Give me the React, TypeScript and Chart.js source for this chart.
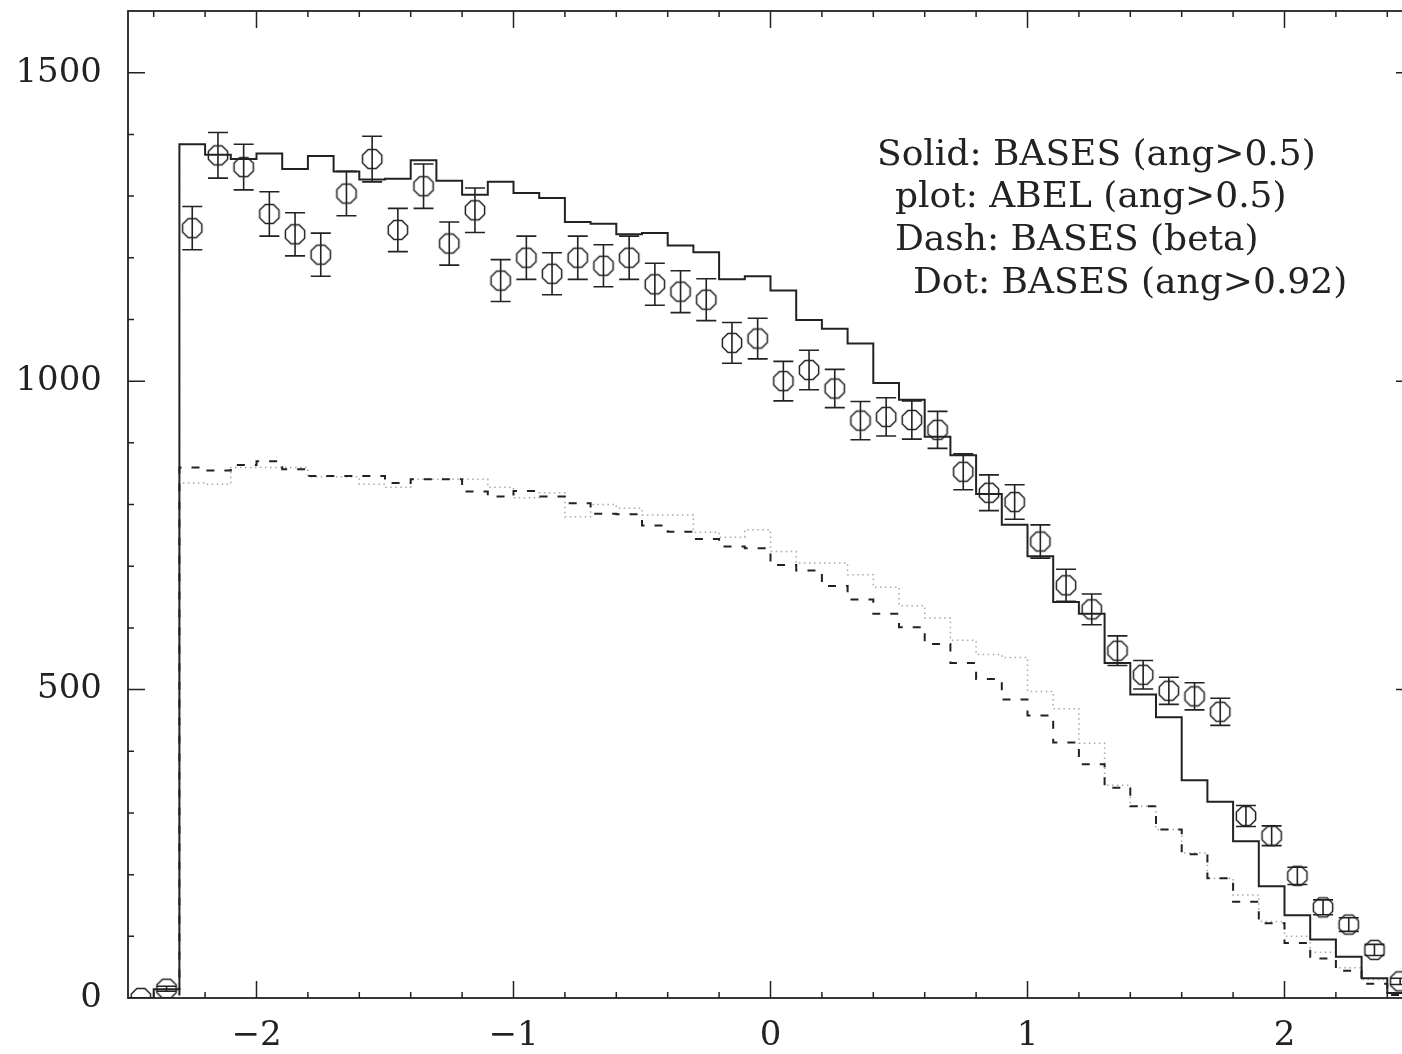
import React, { useEffect, useRef } from 'react';
import { Chart, registerables } from 'chart.js';

Chart.register(...registerables);

// ---- DATA ----
const binCenters = [
  -2.45, -2.35, -2.25, -2.15, -2.05, -1.95, -1.85, -1.75, -1.65, -1.55,
  -1.45, -1.35, -1.25, -1.15, -1.05, -0.95, -0.85, -0.75, -0.65, -0.55,
  -0.45, -0.35, -0.25, -0.15, -0.05, 0.05, 0.15, 0.25, 0.35, 0.45,
  0.55, 0.65, 0.75, 0.85, 0.95, 1.05, 1.15, 1.25, 1.35, 1.45,
  1.55, 1.65, 1.75, 1.85, 1.95, 2.05, 2.15, 2.25, 2.35, 2.45,
];
const binWidth = 0.1;

// Solid: BASES (ang>0.5)
const solidBases = [
  0, 14, 1384, 1367, 1360, 1369, 1344, 1365, 1340, 1327,
  1328, 1358, 1325, 1302, 1323, 1305, 1297, 1258, 1255, 1238,
  1240, 1220, 1209, 1165, 1170, 1147, 1099, 1085, 1061, 997,
  970, 910, 880, 817, 767, 716, 642, 623, 543, 492,
  455, 353, 318, 254, 181, 134, 95, 67, 32, 8,
];

// Dash: BASES (beta)
const dashBeta = [
  0, 0, 860, 855, 864, 870, 857, 846, 846, 846,
  835, 841, 841, 821, 813, 822, 813, 802, 785, 784,
  766, 756, 744, 732, 729, 702, 693, 668, 646, 623,
  601, 574, 543, 517, 484, 458, 414, 379, 341, 311,
  273, 233, 194, 156, 121, 89, 64, 44, 23, 5,
];

// Dot: BASES (ang>0.92)
const dotBases092 = [
  0, 0, 835, 833, 860, 860, 860, 845, 845, 833,
  828, 841, 841, 841, 828, 811, 819, 780, 800, 794,
  783, 783, 755, 747, 759, 724, 705, 705, 686, 666,
  636, 616, 580, 557, 552, 497, 469, 413, 345, 311,
  273, 235, 194, 167, 124, 100, 74, 49, 30, 8,
];

// plot: ABEL (ang>0.5)
const abelValues = [
  0, 15, 1248, 1366, 1347, 1271, 1238, 1205, 1304, 1360,
  1245, 1316, 1223, 1277, 1163, 1200, 1174, 1200, 1187, 1200,
  1157, 1145, 1132, 1062, 1069, 1000, 1018, 988, 936, 942,
  937, 921, 853, 819, 804, 740, 669, 630, 563, 524,
  498, 489, 464, 295, 263, 198, 147, 119, 78, 27,
];
const abelErrors = [
  0, 4, 35, 37, 37, 36, 35, 35, 36, 37,
  35, 36, 35, 36, 34, 35, 34, 35, 34, 35,
  34, 34, 34, 33, 33, 32, 32, 31, 31, 31,
  31, 30, 29, 29, 28, 27, 26, 25, 24, 23,
  22, 22, 22, 17, 16, 14, 12, 11, 9, 5,
];

const xTickValues = [-2, -1, 0, 1, 2];
const yTickValues = [0, 500, 1000, 1500];
const xMinorTicks = [
  -2.4, -2.2, -2.0, -1.8, -1.6, -1.4, -1.2, -1.0, -0.8, -0.6, -0.4, -0.2, 0,
  0.2, 0.4, 0.6, 0.8, 1.0, 1.2, 1.4, 1.6, 1.8, 2.0, 2.2, 2.4,
];
const yMinorTicks = [100, 200, 300, 400, 500, 600, 700, 800, 900, 1000, 1100, 1200, 1300, 1400, 1500];

const legendLines = [
  'Solid: BASES (ang>0.5)',
  'plot: ABEL (ang>0.5)',
  'Dash: BASES (beta)',
  'Dot: BASES (ang>0.92)',
];

// ---- helpers ----
function stepData(values: number[]) {
  const pts = values.map((v, i) => ({ x: binCenters[i] - binWidth / 2, y: v }));
  const last = values.length - 1;
  pts.push({ x: binCenters[last] + binWidth / 2, y: values[last] });
  return pts;
}

function fmt(v: number) {
  return v < 0 ? '\u2212' + Math.abs(v) : String(v);
}

function makeOctagon() {
  const c = document.createElement('canvas');
  c.width = 24;
  c.height = 24;
  const g = c.getContext('2d')!;
  const R = 10.4;
  g.strokeStyle = '#222';
  g.lineWidth = 1.5;
  g.beginPath();
  for (let k = 0; k < 8; k++) {
    const a = (Math.PI / 8) + (k * Math.PI) / 4;
    const px = 12 + R * Math.cos(a);
    const py = 12 + R * Math.sin(a);
    if (k === 0) g.moveTo(px, py);
    else g.lineTo(px, py);
  }
  g.closePath();
  g.stroke();
  return c;
}

const INK = '#222';

const errorBarPlugin = {
  id: 'errorBars',
  afterDatasetsDraw(chart: any) {
    const meta = chart.getDatasetMeta(3);
    const ys = chart.scales.y;
    const ctx = chart.ctx;
    const a = chart.chartArea;
    ctx.save();
    ctx.beginPath();
    ctx.rect(a.left, a.top, a.right - a.left, a.bottom - a.top);
    ctx.clip();
    ctx.strokeStyle = INK;
    ctx.lineWidth = 1.6;
    meta.data.forEach((pt: any, i: number) => {
      const e = abelErrors[i];
      if (!e) return;
      const v = abelValues[i];
      const x = pt.x;
      const y1 = ys.getPixelForValue(v - e);
      const y2 = ys.getPixelForValue(v + e);
      ctx.beginPath();
      ctx.moveTo(x, y1);
      ctx.lineTo(x, y2);
      ctx.moveTo(x - 10, y1);
      ctx.lineTo(x + 10, y1);
      ctx.moveTo(x - 10, y2);
      ctx.lineTo(x + 10, y2);
      ctx.stroke();
    });
    ctx.restore();
  },
};

const framePlugin = {
  id: 'frameTicks',
  afterDraw(chart: any) {
    const ctx = chart.ctx;
    const a = chart.chartArea;
    const xs = chart.scales.x;
    const ys = chart.scales.y;
    ctx.save();
    ctx.strokeStyle = INK;
    ctx.lineWidth = 1.8;
    ctx.strokeRect(a.left, a.top, a.right - a.left, a.bottom - a.top);
    ctx.lineWidth = 1.5;
    ctx.beginPath();
    xMinorTicks.forEach((v) => {
      const px = xs.getPixelForValue(v);
      const len = Math.abs(v - Math.round(v)) < 1e-6 ? 17 : 6;
      ctx.moveTo(px, a.bottom);
      ctx.lineTo(px, a.bottom - len);
      ctx.moveTo(px, a.top);
      ctx.lineTo(px, a.top + len);
    });
    yMinorTicks.forEach((v) => {
      const py = ys.getPixelForValue(v);
      const len = v % 500 === 0 ? 17 : 6;
      ctx.moveTo(a.left, py);
      ctx.lineTo(a.left + len, py);
      ctx.moveTo(a.right, py);
      ctx.lineTo(a.right - len, py);
    });
    ctx.stroke();

    // legend text
    const lx = [877, 895, 895, 913];
    const ly = [165, 207, 250, 293];
    ctx.fillStyle = INK;
    ctx.font = '36px "DejaVu Serif"';
    ctx.textAlign = 'left';
    ctx.textBaseline = 'alphabetic';
    legendLines.forEach((t, i) => ctx.fillText(t, lx[i], ly[i]));
    ctx.restore();
  },
};

export default function App() {
  const ref = useRef<HTMLCanvasElement | null>(null);

  useEffect(() => {
    if (!ref.current) return;
    const octagon = makeOctagon();
    const tickFont = { family: 'DejaVu Serif', size: 34 };
    const chart = new Chart(ref.current, {
      type: 'scatter',
      data: {
        datasets: [
          {
            type: 'line',
            label: 'Solid: BASES (ang>0.5)',
            data: stepData(solidBases),
            stepped: 'before',
            borderColor: INK,
            borderWidth: 2,
            pointRadius: 0,
            fill: false,
          },
          {
            type: 'line',
            label: 'Dash: BASES (beta)',
            data: stepData(dashBeta),
            stepped: 'before',
            borderColor: INK,
            borderWidth: 2,
            borderDash: [8, 10],
            pointRadius: 0,
            fill: false,
          },
          {
            type: 'line',
            label: 'Dot: BASES (ang>0.92)',
            data: stepData(dotBases092),
            stepped: 'before',
            borderColor: '#a8a8a8',
            borderWidth: 1.5,
            borderDash: [1.5, 3.5],
            pointRadius: 0,
            fill: false,
          },
          {
            type: 'scatter',
            label: 'plot: ABEL (ang>0.5)',
            data: binCenters.map((c, i) => ({ x: c, y: abelValues[i] })),
            pointStyle: octagon as any,
            pointRadius: 10,
            showLine: false,
            clip: 0,
          },
        ],
      } as any,
      options: {
        animation: false,
        responsive: false,
        events: [],
        layout: { padding: { left: 0, top: 9, right: 17, bottom: 0 } },
        plugins: { legend: { display: false }, tooltip: { enabled: false } },
        scales: {
          x: {
            type: 'linear',
            min: -2.5,
            max: 2.5,
            position: 'bottom',
            grid: { display: false, drawTicks: false },
            border: { display: false },
            ticks: {
              font: tickFont,
              color: INK,
              padding: 18,
              maxRotation: 0,
              autoSkip: false,
              callback: (v: any) => fmt(Number(v)),
            },
            afterBuildTicks: (s: any) => {
              s.ticks = xTickValues.map((v) => ({ value: v }));
            },
            afterFit: (s: any) => {
              s.height = 56;
              s.paddingLeft = 0;
              s.paddingRight = 0;
              s.paddingTop = 0;
              s.paddingBottom = 0;
            },
          },
          y: {
            type: 'linear',
            min: 0,
            max: 1600,
            grid: { display: false, drawTicks: false },
            border: { display: false },
            ticks: {
              font: tickFont,
              color: INK,
              padding: 26,
              autoSkip: false,
              callback: (v: any) => fmt(Number(v)),
            },
            afterBuildTicks: (s: any) => {
              s.ticks = yTickValues.map((v) => ({ value: v }));
            },
            afterFit: (s: any) => {
              s.width = 128;
              s.paddingLeft = 0;
              s.paddingRight = 0;
              s.paddingTop = 0;
              s.paddingBottom = 0;
            },
          },
        },
      } as any,
      plugins: [errorBarPlugin, framePlugin],
    });
    return () => chart.destroy();
  }, []);

  return (
    <div
      style={{
        position: 'fixed',
        left: 0,
        top: 0,
        width: 1402,
        height: 1054,
        overflow: 'hidden',
        background: '#fff',
      }}
    >
      <canvas ref={ref} width={1430} height={1054} style={{ display: 'block' }} />
    </div>
  );
}
